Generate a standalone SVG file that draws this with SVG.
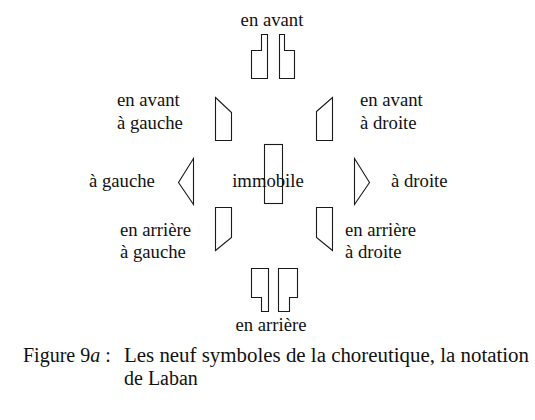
<svg xmlns="http://www.w3.org/2000/svg" width="535" height="420" viewBox="0 0 535 420">
<style>
.s{fill:none;stroke:#1a1a1a;stroke-width:1.1;stroke-linejoin:miter}
.t{font-family:"Liberation Serif","Times New Roman",serif;font-size:18.7px;fill:#111}
.c{font-family:"Liberation Serif","Times New Roman",serif;font-size:20px;fill:#111}
</style>
<rect width="535" height="420" fill="#fff"/>
<g id="connectors"/>
<g id="avant">
<polygon class="s" points="261.5,34.5 267.5,34.5 267.5,78.5 251.5,78.5 251.5,50.5 261.5,50.5"/>
<polygon class="s" points="279.5,34.5 284.5,34.5 284.5,50.5 294.5,50.5 294.5,78.5 279.5,78.5"/>
<text class="t" x="272" y="26" text-anchor="middle">en avant</text>
</g>
<g id="avant-gauche">
<polygon class="s" points="215.5,97.5 231.5,112.5 231.5,140.5 215.5,140.5"/>
<text class="t" x="117" y="106">en avant</text>
<text class="t" x="117" y="129">à gauche</text>
</g>
<g id="avant-droite">
<polygon class="s" points="316.5,111.5 332.5,97.5 332.5,140.5 316.5,140.5"/>
<text class="t" x="360" y="106">en avant</text>
<text class="t" x="360" y="129">à droite</text>
</g>
<g id="gauche">
<polygon class="s" points="193.5,158.5 178.5,182.5 193.5,204.5"/>
<text class="t" x="89" y="187">à gauche</text>
</g>
<g id="immobile">
<rect class="s" x="264.5" y="144.5" width="18" height="59"/>
<text class="t" x="268" y="187" text-anchor="middle">immobile</text>
</g>
<g id="droite">
<polygon class="s" points="354.5,158.5 369.5,182.5 354.5,204.5"/>
<text class="t" x="391" y="187">à droite</text>
</g>
<g id="arriere-gauche">
<polygon class="s" points="215.5,207.5 231.5,207.5 231.5,237.5 215.5,250.5"/>
<text class="t" x="120" y="236">en arrière</text>
<text class="t" x="120" y="258">à gauche</text>
</g>
<g id="arriere-droite">
<polygon class="s" points="316.5,207.5 332.5,207.5 332.5,250.5 316.5,237.5"/>
<text class="t" x="345" y="236">en arrière</text>
<text class="t" x="345" y="258">à droite</text>
</g>
<g id="arriere">
<polygon class="s" points="251.5,268.5 268.5,268.5 268.5,311.5 261.5,311.5 261.5,297.5 251.5,297.5"/>
<polygon class="s" points="278.5,268.5 297.5,268.5 297.5,297.5 289.5,297.5 289.5,311.5 278.5,311.5"/>
<text class="t" x="271" y="331" text-anchor="middle">en arrière</text>
</g>
<g id="caption">
<text class="c" x="23" y="362">Figure 9<tspan font-style="italic">a</tspan> :</text>
<text class="c" x="124" y="362" textLength="405" lengthAdjust="spacingAndGlyphs">Les neuf symboles de la choreutique, la notation</text>
<text class="c" x="124" y="385">de Laban</text>
</g>
</svg>
